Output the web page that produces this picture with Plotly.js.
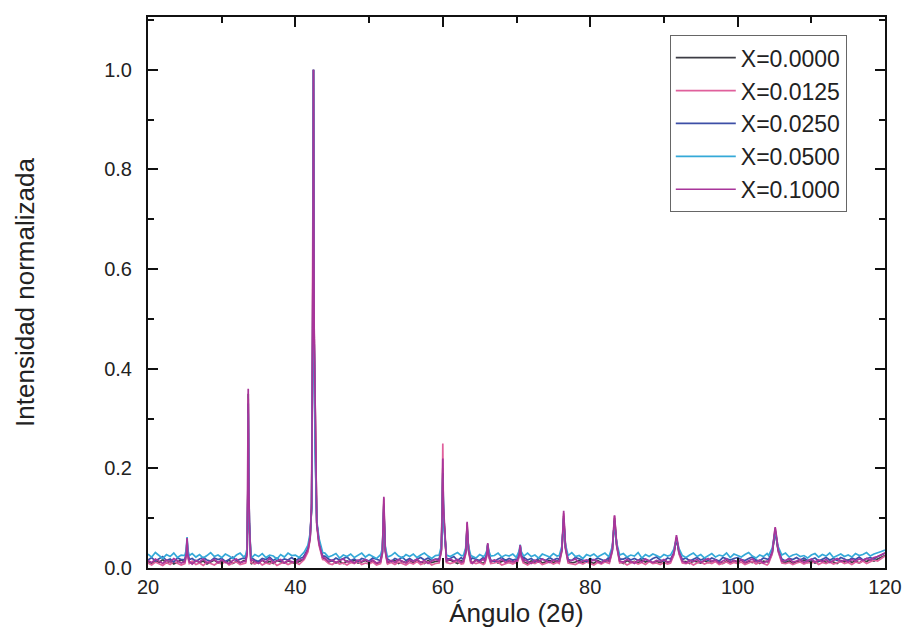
<!DOCTYPE html>
<html>
<head>
<meta charset="utf-8">
<script src="https://cdn.plot.ly/plotly-3.0.1.min.js"></script>
<style>html,body{margin:0;padding:0;background:#fff;}#chart{width:906px;height:643px;}</style>
</head>
<body>
<div id="chart"></div>
<script>
// ---- scan angles (2theta, degrees) for background points ----
const scanAngles = [
20,20.5,21,21.5,22,22.5,23,23.5,24,24.5,25,25.5,26,26.5,27,27.5,28,28.5,29,29.5,
30,30.5,31,31.5,32,32.5,33,33.5,34,34.5,35,35.5,36,36.5,37,37.5,38,38.5,39,39.5,
40,40.5,41,41.5,42,42.5,43,43.5,44,44.5,45,45.5,46,46.5,47,47.5,48,48.5,49,49.5,
50,50.5,51,51.5,52,52.5,53,53.5,54,54.5,55,55.5,56,56.5,57,57.5,58,58.5,59,59.5,
60,60.5,61,61.5,62,62.5,63,63.5,64,64.5,65,65.5,66,66.5,67,67.5,68,68.5,69,69.5,
70,70.5,71,71.5,72,72.5,73,73.5,74,74.5,75,75.5,76,76.5,77,77.5,78,78.5,79,79.5,
80,80.5,81,81.5,82,82.5,83,83.5,84,84.5,85,85.5,86,86.5,87,87.5,88,88.5,89,89.5,
90,90.5,91,91.5,92,92.5,93,93.5,94,94.5,95,95.5,96,96.5,97,97.5,98,98.5,99,99.5,
100,100.5,101,101.5,102,102.5,103,103.5,104,104.5,105,105.5,106,106.5,107,107.5,108,108.5,109,109.5,
110,110.5,111,111.5,112,112.5,113,113.5,114,114.5,115,115.5,116,116.5,117,117.5,118,118.5,119,119.5,
120];

// ---- background intensity per sample ----
const background_x0000 = [
0.013,0.009,0.015,0.011,0.017,0.010,0.014,0.008,0.012,0.016,0.010,0.013,0.009,0.015,0.011,0.014,0.008,0.012,0.016,0.010,
0.014,0.011,0.016,0.009,0.013,0.010,0.015,0.012,0.008,0.014,0.011,0.016,0.010,0.013,0.009,0.015,0.012,0.010,0.014,0.011,
0.009,0.013,0.016,0.018,0.014,0.020,0.026,0.022,0.018,0.012,0.015,0.010,0.013,0.009,0.014,0.011,0.016,0.010,0.012,0.015,
0.011,0.014,0.009,0.013,0.016,0.010,0.012,0.015,0.009,0.013,0.011,0.016,0.010,0.014,0.012,0.009,0.015,0.011,0.013,0.010,
0.014,0.011,0.016,0.012,0.009,0.015,0.011,0.013,0.010,0.016,0.012,0.009,0.014,0.011,0.015,0.010,0.013,0.016,0.011,0.014,
0.010,0.015,0.012,0.009,0.014,0.011,0.016,0.010,0.013,0.015,0.011,0.014,0.009,0.013,0.016,0.010,0.012,0.015,0.011,0.014,
0.012,0.009,0.015,0.011,0.013,0.016,0.010,0.014,0.012,0.009,0.015,0.011,0.013,0.010,0.016,0.012,0.014,0.010,0.013,0.011,
0.015,0.012,0.010,0.014,0.011,0.016,0.013,0.009,0.014,0.012,0.010,0.015,0.011,0.013,0.016,0.012,0.009,0.014,0.011,0.015,
0.012,0.016,0.010,0.013,0.011,0.015,0.009,0.014,0.012,0.016,0.010,0.013,0.015,0.011,0.014,0.009,0.013,0.012,0.016,0.011,
0.014,0.010,0.013,0.016,0.011,0.014,0.012,0.009,0.015,0.012,0.016,0.011,0.014,0.010,0.015,0.013,0.017,0.014,0.018,0.021,
0.025];
const background_x0125 = [
0.010,0.006,0.012,0.008,0.005,0.011,0.007,0.013,0.009,0.006,0.011,0.008,0.014,0.007,0.010,0.005,0.012,0.009,0.006,0.011,
0.008,0.013,0.006,0.010,0.012,0.007,0.009,0.005,0.011,0.008,0.013,0.006,0.010,0.008,0.012,0.005,0.009,0.011,0.007,0.010,
0.012,0.007,0.013,0.015,0.013,0.018,0.024,0.020,0.016,0.009,0.007,0.012,0.008,0.010,0.006,0.011,0.009,0.013,0.007,0.010,
0.008,0.012,0.006,0.010,0.013,0.008,0.011,0.007,0.012,0.009,0.006,0.011,0.008,0.013,0.007,0.010,0.012,0.006,0.009,0.011,
0.007,0.012,0.009,0.011,0.014,0.008,0.010,0.006,0.012,0.009,0.011,0.007,0.013,0.008,0.010,0.012,0.006,0.009,0.011,0.008,
0.012,0.008,0.010,0.006,0.011,0.009,0.013,0.007,0.010,0.012,0.008,0.011,0.006,0.010,0.013,0.009,0.007,0.011,0.008,0.012,
0.009,0.006,0.011,0.008,0.012,0.010,0.007,0.013,0.009,0.011,0.006,0.010,0.012,0.008,0.011,0.007,0.013,0.009,0.010,0.007,
0.011,0.008,0.013,0.010,0.007,0.012,0.009,0.011,0.006,0.010,0.012,0.008,0.011,0.009,0.013,0.007,0.010,0.012,0.008,0.011,
0.009,0.012,0.007,0.010,0.013,0.008,0.011,0.009,0.006,0.012,0.010,0.008,0.013,0.009,0.011,0.007,0.010,0.012,0.008,0.011,
0.010,0.013,0.007,0.011,0.009,0.012,0.008,0.010,0.013,0.009,0.011,0.007,0.012,0.010,0.014,0.009,0.013,0.016,0.014,0.019,
0.024];
const background_x0250 = [
0.016,0.021,0.014,0.019,0.023,0.015,0.018,0.012,0.020,0.017,0.022,0.015,0.019,0.013,0.018,0.021,0.016,0.014,0.020,0.017,
0.019,0.013,0.017,0.022,0.015,0.018,0.020,0.014,0.021,0.016,0.013,0.019,0.017,0.022,0.015,0.020,0.014,0.018,0.016,0.021,
0.015,0.019,0.021,0.024,0.020,0.024,0.029,0.027,0.024,0.018,0.014,0.020,0.016,0.019,0.022,0.015,0.018,0.013,0.019,0.017,
0.014,0.020,0.017,0.015,0.021,0.018,0.013,0.019,0.016,0.022,0.015,0.019,0.014,0.018,0.021,0.016,0.020,0.015,0.018,0.014,
0.020,0.016,0.019,0.023,0.015,0.021,0.017,0.014,0.020,0.018,0.015,0.021,0.016,0.019,0.013,0.018,0.021,0.015,0.019,0.016,
0.018,0.014,0.021,0.016,0.019,0.013,0.020,0.017,0.015,0.021,0.016,0.019,0.014,0.020,0.017,0.015,0.021,0.018,0.016,0.013,
0.019,0.015,0.020,0.017,0.014,0.021,0.016,0.019,0.013,0.018,0.021,0.016,0.019,0.015,0.020,0.017,0.014,0.019,0.022,0.016,
0.014,0.020,0.017,0.021,0.015,0.018,0.020,0.014,0.017,0.021,0.016,0.019,0.015,0.020,0.017,0.014,0.021,0.018,0.016,0.019,
0.021,0.017,0.015,0.019,0.022,0.016,0.014,0.020,0.017,0.019,0.015,0.021,0.018,0.014,0.019,0.017,0.021,0.016,0.020,0.015,
0.017,0.020,0.014,0.018,0.021,0.016,0.019,0.015,0.021,0.018,0.014,0.020,0.017,0.022,0.016,0.019,0.021,0.018,0.023,0.026,
0.030];
const background_x0500 = [
0.028,0.022,0.031,0.025,0.019,0.027,0.023,0.030,0.021,0.026,0.024,0.018,0.029,0.022,0.027,0.020,0.025,0.031,0.023,0.026,
0.021,0.028,0.024,0.019,0.026,0.030,0.022,0.025,0.020,0.027,0.023,0.029,0.021,0.026,0.024,0.018,0.027,0.022,0.030,0.025,
0.026,0.021,0.028,0.030,0.029,0.033,0.036,0.031,0.030,0.022,0.025,0.029,0.020,0.026,0.023,0.028,0.021,0.025,0.030,0.022,
0.027,0.023,0.019,0.026,0.029,0.022,0.025,0.031,0.024,0.020,0.027,0.023,0.028,0.021,0.026,0.030,0.024,0.019,0.025,0.028,
0.026,0.029,0.023,0.027,0.031,0.025,0.022,0.028,0.024,0.020,0.027,0.023,0.029,0.021,0.025,0.030,0.022,0.026,0.024,0.028,
0.021,0.027,0.024,0.030,0.023,0.026,0.020,0.028,0.025,0.022,0.029,0.024,0.027,0.021,0.026,0.031,0.023,0.025,0.019,0.027,
0.024,0.028,0.022,0.026,0.030,0.023,0.027,0.021,0.025,0.029,0.022,0.026,0.024,0.031,0.020,0.027,0.023,0.028,0.025,0.021,
0.027,0.024,0.029,0.022,0.028,0.025,0.021,0.026,0.030,0.023,0.027,0.020,0.025,0.029,0.022,0.026,0.024,0.030,0.021,0.028,
0.025,0.022,0.027,0.031,0.024,0.020,0.026,0.023,0.029,0.025,0.021,0.027,0.024,0.030,0.022,0.026,0.028,0.023,0.025,0.020,
0.026,0.029,0.022,0.027,0.024,0.030,0.021,0.025,0.028,0.023,0.026,0.022,0.029,0.025,0.027,0.031,0.024,0.028,0.030,0.033,
0.036];
const background_x1000 = [
0.015,0.011,0.018,0.013,0.009,0.016,0.012,0.019,0.014,0.010,0.017,0.013,0.008,0.015,0.012,0.018,0.010,0.014,0.017,0.011,
0.016,0.012,0.009,0.015,0.018,0.011,0.014,0.010,0.017,0.013,0.009,0.016,0.012,0.019,0.011,0.014,0.017,0.010,0.015,0.013,
0.011,0.016,0.017,0.020,0.015,0.022,0.028,0.024,0.020,0.013,0.016,0.011,0.015,0.018,0.012,0.014,0.010,0.016,0.013,0.017,
0.012,0.016,0.010,0.014,0.018,0.012,0.015,0.011,0.017,0.013,0.010,0.016,0.013,0.018,0.011,0.015,0.009,0.014,0.017,0.012,
0.016,0.012,0.018,0.014,0.017,0.011,0.015,0.013,0.009,0.016,0.012,0.018,0.014,0.010,0.016,0.013,0.017,0.011,0.015,0.012,
0.015,0.011,0.017,0.013,0.009,0.016,0.012,0.018,0.014,0.011,0.016,0.013,0.010,0.017,0.012,0.015,0.018,0.011,0.014,0.016,
0.012,0.017,0.013,0.010,0.016,0.014,0.018,0.011,0.015,0.012,0.017,0.013,0.009,0.016,0.012,0.018,0.014,0.011,0.015,0.013,
0.017,0.012,0.015,0.011,0.018,0.014,0.010,0.016,0.013,0.017,0.011,0.015,0.019,0.013,0.016,0.010,0.014,0.018,0.012,0.015,
0.013,0.017,0.011,0.015,0.018,0.012,0.016,0.010,0.014,0.017,0.013,0.016,0.011,0.015,0.019,0.012,0.014,0.017,0.011,0.015,
0.018,0.012,0.016,0.013,0.017,0.011,0.015,0.019,0.013,0.016,0.012,0.017,0.014,0.018,0.015,0.019,0.016,0.021,0.023,0.026,
0.030];

// ---- reflection profiles: sampled angles (shared) and intensities per series ----
const peakAngles = [
25.0,25.2,25.3,25.4,25.6,
33.25,33.45,33.55,33.6,33.65,33.75,33.95,
41.2,41.7,42.0,42.2,42.35,42.45,42.55,42.7,42.9,43.2,43.7,
51.55,51.8,51.93,52.0,52.07,52.2,52.45,
59.5,59.8,59.93,60.0,60.07,60.2,60.5,
62.8,63.1,63.25,63.3,63.35,63.5,63.8,
65.7,65.95,66.1,66.25,66.5,
70.05,70.35,70.5,70.65,70.95,
75.8,76.15,76.33,76.4,76.47,76.65,77.0,
82.6,83.0,83.22,83.3,83.38,83.6,84.0,
90.9,91.35,91.6,91.7,91.8,92.05,92.5,
104.2,104.7,104.98,105.1,105.22,105.5,106.0];

const peaks_x0000 = [
0.012,0.028,0.055,0.026,0.012,
0.013,0.030,0.160,0.350,0.200,0.090,0.014,
0.020,0.035,0.060,0.120,0.480,1.000,0.460,0.240,0.090,0.050,0.020,
0.012,0.030,0.080,0.130,0.090,0.035,0.013,
0.013,0.035,0.110,0.200,0.120,0.080,0.014,
0.012,0.030,0.065,0.085,0.070,0.035,0.012,
0.012,0.025,0.045,0.024,0.012,
0.011,0.024,0.042,0.023,0.012,
0.012,0.035,0.080,0.105,0.085,0.040,0.013,
0.012,0.035,0.080,0.100,0.085,0.045,0.013,
0.013,0.028,0.050,0.060,0.052,0.030,0.013,
0.012,0.030,0.062,0.075,0.064,0.035,0.013];
const peaks_x0125 = [
0.009,0.024,0.050,0.022,0.009,
0.010,0.028,0.150,0.340,0.190,0.085,0.011,
0.017,0.032,0.058,0.130,0.520,1.000,0.480,0.250,0.085,0.046,0.017,
0.009,0.028,0.085,0.140,0.095,0.032,0.010,
0.010,0.033,0.130,0.250,0.140,0.085,0.011,
0.009,0.028,0.070,0.090,0.074,0.033,0.009,
0.009,0.022,0.048,0.022,0.009,
0.008,0.022,0.045,0.021,0.009,
0.009,0.033,0.085,0.110,0.090,0.038,0.010,
0.009,0.033,0.085,0.105,0.088,0.043,0.010,
0.010,0.026,0.052,0.062,0.054,0.028,0.010,
0.009,0.028,0.066,0.080,0.068,0.033,0.010];
const peaks_x0250 = [
0.017,0.030,0.058,0.030,0.017,
0.018,0.034,0.150,0.330,0.190,0.090,0.018,
0.025,0.040,0.064,0.120,0.470,1.000,0.450,0.230,0.090,0.054,0.024,
0.017,0.033,0.080,0.125,0.085,0.038,0.017,
0.018,0.038,0.100,0.190,0.110,0.078,0.018,
0.017,0.033,0.062,0.080,0.066,0.037,0.017,
0.017,0.028,0.046,0.028,0.016,
0.016,0.028,0.044,0.027,0.017,
0.017,0.037,0.077,0.100,0.080,0.042,0.017,
0.017,0.037,0.076,0.095,0.080,0.046,0.018,
0.018,0.031,0.050,0.058,0.051,0.033,0.017,
0.017,0.033,0.060,0.072,0.062,0.037,0.018];
const peaks_x0500 = [
0.025,0.037,0.062,0.036,0.025,
0.026,0.040,0.140,0.310,0.180,0.090,0.026,
0.032,0.046,0.070,0.120,0.450,1.000,0.440,0.220,0.095,0.060,0.031,
0.025,0.040,0.078,0.120,0.082,0.043,0.025,
0.026,0.044,0.100,0.180,0.105,0.075,0.026,
0.025,0.040,0.062,0.078,0.065,0.042,0.025,
0.025,0.034,0.048,0.034,0.024,
0.024,0.034,0.047,0.033,0.025,
0.025,0.043,0.077,0.098,0.080,0.047,0.025,
0.025,0.043,0.075,0.092,0.078,0.050,0.026,
0.026,0.038,0.053,0.060,0.054,0.039,0.025,
0.025,0.040,0.063,0.075,0.065,0.043,0.026];
const peaks_x1000 = [
0.013,0.030,0.060,0.028,0.013,
0.014,0.032,0.170,0.360,0.210,0.095,0.014,
0.021,0.037,0.062,0.130,0.500,1.000,0.470,0.250,0.092,0.050,0.021,
0.013,0.032,0.088,0.143,0.097,0.036,0.014,
0.014,0.037,0.120,0.220,0.130,0.085,0.014,
0.013,0.032,0.072,0.093,0.076,0.037,0.013,
0.013,0.027,0.050,0.026,0.013,
0.012,0.026,0.046,0.025,0.013,
0.013,0.037,0.088,0.115,0.093,0.042,0.014,
0.013,0.037,0.087,0.106,0.090,0.047,0.014,
0.014,0.030,0.056,0.066,0.058,0.032,0.014,
0.013,0.032,0.068,0.082,0.070,0.037,0.014];

const seriesNames = ["X=0.0000","X=0.0125","X=0.0250","X=0.0500","X=0.1000"];
const seriesBackground = [background_x0000, background_x0125, background_x0250, background_x0500, background_x1000];
const seriesPeaks = [peaks_x0000, peaks_x0125, peaks_x0250, peaks_x0500, peaks_x1000];
const seriesColors = ["#3c3c44","#e0609c","#3d4fa6","#35a9d8","#a8359a"];

// merge background samples with the reflection profiles (background samples inside a reflection are dropped)
function mergeScan(bx, by, px, py) {
  const spans = [];
  let start = 0;
  for (let i = 1; i <= px.length; i++) {
    if (i === px.length || px[i] - px[i-1] > 0.6) { spans.push([px[start], px[i-1]]); start = i; }
  }
  const pts = [];
  bx.forEach((x, i) => { if (!spans.some(s => x >= s[0] - 0.01 && x <= s[1] + 0.01)) pts.push([x, by[i]]); });
  px.forEach((x, i) => pts.push([x, py[i]]));
  pts.sort((a, b) => a[0] - b[0]);
  return {x: pts.map(p => p[0]), y: pts.map(p => p[1])};
}

const fontFam = "Liberation Sans, Arial, Helvetica, sans-serif";
const traces = seriesNames.map((name, k) => {
  const m = mergeScan(scanAngles, seriesBackground[k], peakAngles, seriesPeaks[k]);
  return {x: m.x, y: m.y, type: "scatter", mode: "lines", name: name,
          line: {color: seriesColors[k], width: 1.7}};
});

const axisCommon = {
  showline: true, linecolor: "#111", linewidth: 2, mirror: "ticks",
  ticks: "inside", ticklen: 10, tickwidth: 2, tickcolor: "#111",
  showgrid: false, zeroline: false,
  tickfont: {family: fontFam, size: 20, color: "#222"}
};

const layout = {
  width: 906, height: 643,
  margin: {l: 148, r: 21, t: 17, b: 75},
  paper_bgcolor: "#fff", plot_bgcolor: "#fff",
  showlegend: true,
  legend: {x: 0.708, y: 0.967, xanchor: "left", yanchor: "top",
           bordercolor: "#666", borderwidth: 1, bgcolor: "#fff",
           font: {family: fontFam, size: 23, color: "#222"},
           itemwidth: 60, tracegroupgap: 0},
  xaxis: Object.assign({}, axisCommon, {
    range: [20, 120], tickvals: [20, 40, 60, 80, 100, 120],
    minor: {tickvals: [30, 50, 70, 90, 110], ticks: "inside", ticklen: 6, tickwidth: 2, tickcolor: "#111"},
    title: {text: "Ángulo (2θ)", font: {family: fontFam, size: 26, color: "#222"}, standoff: 3}
  }),
  yaxis: Object.assign({}, axisCommon, {
    range: [0, 1.106], tickvals: [0, 0.2, 0.4, 0.6, 0.8, 1.0], ticktext: ["0.0","0.2","0.4","0.6","0.8","1.0"],
    minor: {tickvals: [0.1, 0.3, 0.5, 0.7, 0.9, 1.1], ticks: "inside", ticklen: 6, tickwidth: 2, tickcolor: "#111"},
    ticklabelstandoff: 10,
    title: {text: "Intensidad normalizada", font: {family: fontFam, size: 26, color: "#222"}, standoff: 62}
  })
};

Plotly.newPlot("chart", traces, layout, {displayModeBar: false, staticPlot: true});
</script>
</body>
</html>
